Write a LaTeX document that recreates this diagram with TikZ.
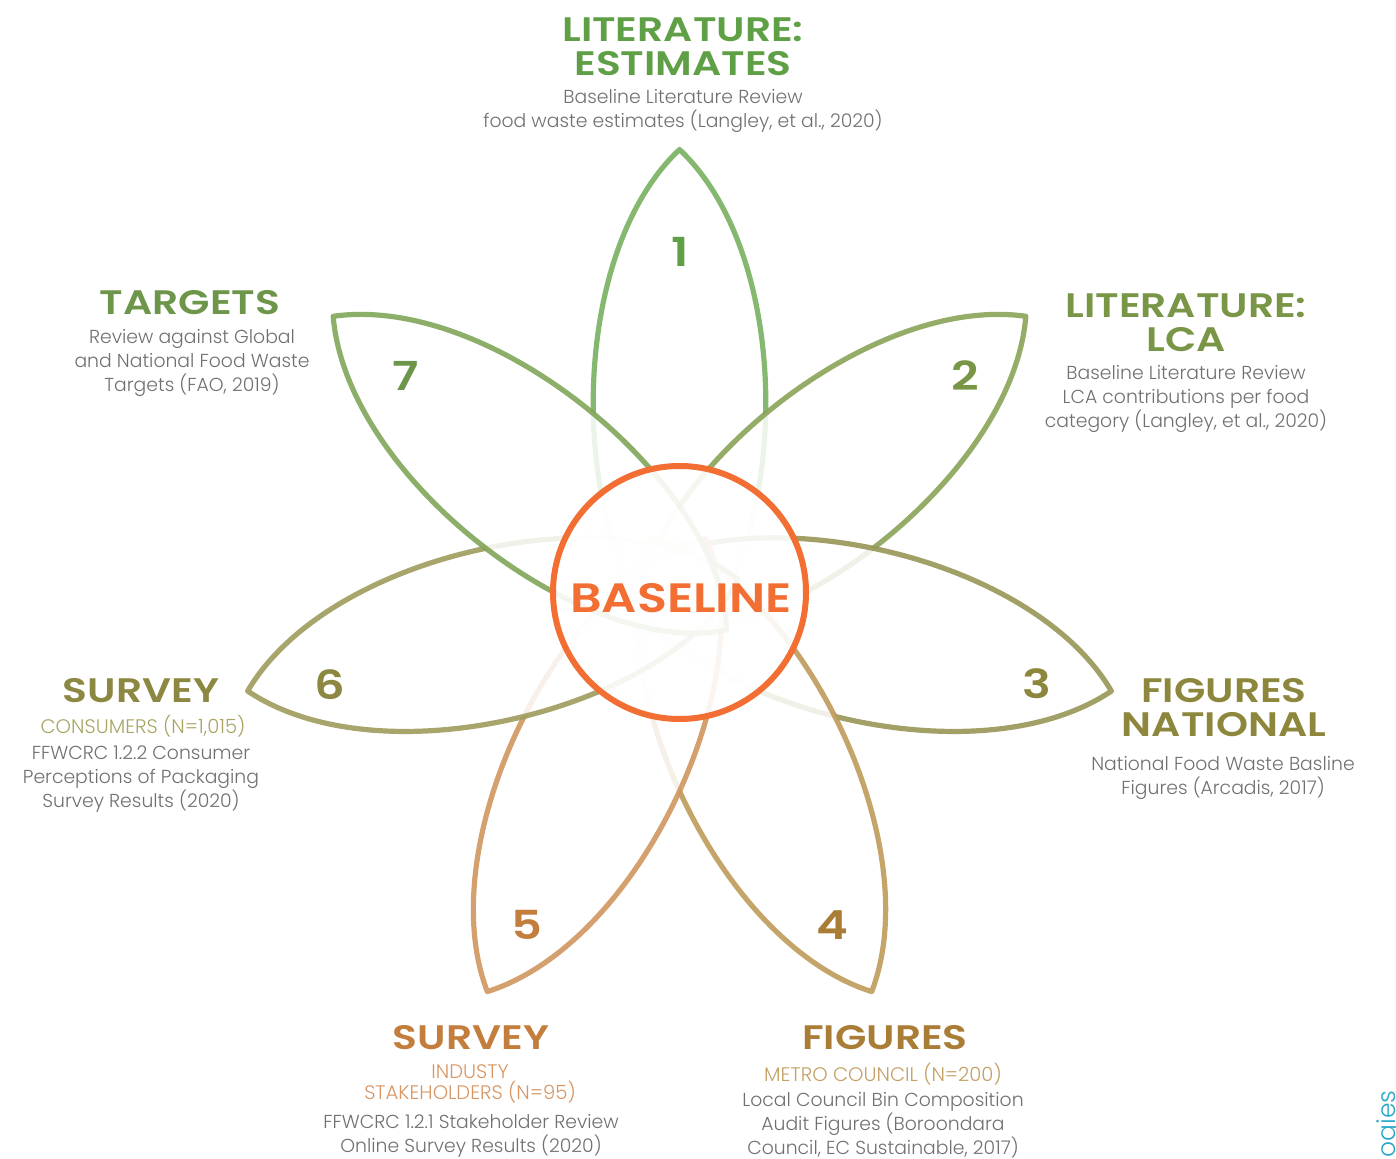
\documentclass[tikz,border=0pt]{standalone}
\usepackage{fontspec}
\usepackage{xcolor}
\usepackage{tikz}
\setmainfont{Poppins}
\IfFontExistsTF{Poppins Light}{\newfontfamily\bodyfont{Poppins Light}}{\newfontfamily\bodyfont{Poppins}}
\IfFontExistsTF{Poppins SemiBold}{\newfontfamily\headfont{Poppins SemiBold}[FakeStretch=1.2]}{\newfontfamily\headfont{Poppins}[UprightFont=* Bold, FakeStretch=1.2]}

% petal strokes
\definecolor{petal1}{RGB}{120,176,96}
\definecolor{petal2}{RGB}{138,164,88}
\definecolor{petal3}{RGB}{152,150,86}
\definecolor{petal4}{RGB}{190,155,90}
\definecolor{petal5}{RGB}{208,150,95}
\definecolor{petal6}{RGB}{158,156,92}
\definecolor{petal7}{RGB}{128,166,90}
% headings and numbers
\definecolor{head1}{RGB}{95,160,70}
\definecolor{head2}{RGB}{120,150,70}
\definecolor{head3}{RGB}{140,135,60}
\definecolor{head4}{RGB}{170,125,55}
\definecolor{head5}{RGB}{195,125,60}
\definecolor{head6}{RGB}{140,135,65}
\definecolor{head7}{RGB}{110,150,75}
% sub headings
\definecolor{sub4}{RGB}{195,160,100}
\definecolor{sub5}{RGB}{215,150,100}
\definecolor{sub6}{RGB}{170,165,100}
\definecolor{basecol}{RGB}{242,110,50}
\definecolor{txtgray}{RGB}{112,112,112}
\definecolor{logocyan}{RGB}{40,170,200}

\begin{document}
\begin{tikzpicture}[x=0.5pt,y=0.5pt,yscale=-1,
    petal/.style={line width=2.6pt, fill=white, fill opacity=0.85, draw opacity=0.9, line join=round},
    head/.style={anchor=north, inner sep=0pt, align=center, font=\headfont\fontsize{17}{17}\selectfont},
    desc/.style={anchor=north, inner sep=0pt, align=center, text=txtgray, font=\bodyfont\fontsize{9.4}{12}\selectfont},
    subhead/.style={desc, font=\bodyfont\fontsize{9.8}{10.5}\selectfont},
    num/.style={inner sep=0pt, font=\headfont\fontsize{20}{20}\selectfont}]
    \useasboundingbox (0,0) rectangle (1396,1159);

    % Petals, each one laid over the one before
    \foreach \i in {1,...,7}{
        \begin{scope}[shift={(679.5,592.5)}, rotate={-90+360/7*(\i-1)}]
            \draw[petal, draw=petal\i] (-60,0) .. controls (30,-110) and (330,-120) .. (443,0)
                .. controls (330,120) and (30,110) .. (-60,0) -- cycle;
        \end{scope}
    }

    % Centre circle
    \node[circle, draw=basecol, line width=3pt, fill=white, fill opacity=0.9, minimum size=126.5pt, inner sep=0pt] (base) at (679.5,592.5) {};
    \node[inner sep=0pt, text=basecol, font=\headfont\fontsize{20.5}{22}\selectfont] (basetxt) at (681,598) {BASELINE};

    % Petal numbers
    \foreach \i/\x/\y in {1/680/252, 2/965/376, 3/1037/684, 4/832/925, 5/527/925, 6/330/685, 7/406/376}
        \node[num, text=head\i] (n\i) at (\x,\y) {\i};

    % 1
    \node[head, text=head1] (t1) at (683,17) {LITERATURE:\\ESTIMATES};
    \node[desc] (d1) at (683,89) {Baseline Literature Review\\food waste estimates (Langley, et al., 2020)};
    % 2
    \node[head, text=head2] (t2) at (1186,293) {LITERATURE:\\LCA};
    \node[desc] (d2) at (1186,365) {Baseline Literature Review\\LCA contributions per food\\category (Langley, et al., 2020)};
    % 3
    \node[head, text=head3] (t3) at (1224,678) {FIGURES\\NATIONAL};
    \node[desc] (d3) at (1223,756) {National Food Waste Basline\\Figures (Arcadis, 2017)};
    % 4
    \node[head, text=head4] (t4) at (885,1025) {FIGURES};
    \node[subhead, text=sub4] (s4) at (883,1063) {METRO COUNCIL (N=200)};
    \node[desc] (d4) at (883,1092) {Local Council Bin Composition\\Audit Figures (Boroondara\\Council, EC Sustainable, 2017)};
    % 5
    \node[head, text=head5] (t5) at (471,1025) {SURVEY};
    \node[subhead, text=sub5] (s5) at (470,1064) {INDUSTY\\STAKEHOLDERS (N=95)};
    \node[desc] (d5) at (471,1114) {FFWCRC 1.2.1 Stakeholder Review\\Online Survey Results (2020)};
    % 6
    \node[head, text=head6] (t6) at (141,678) {SURVEY};
    \node[subhead, text=sub6] (s6) at (143,715) {CONSUMERS (N=1,015)};
    \node[desc] (d6) at (141,745) {FFWCRC 1.2.2 Consumer\\Perceptions of Packaging\\Survey Results (2020)};
    % 7
    \node[head, text=head7] (t7) at (190,290) {TARGETS};
    \node[desc] (d7) at (192,329) {Review against Global\\and National Food Waste\\Targets (FAO, 2019)};

    % cut off word at the right edge
    \node[rotate=90, anchor=base east, inner sep=0pt, text=logocyan, font=\bodyfont\fontsize{12.5}{12.5}\selectfont] (logo) at (1395,1090) {ogies};
\end{tikzpicture}
\end{document}
